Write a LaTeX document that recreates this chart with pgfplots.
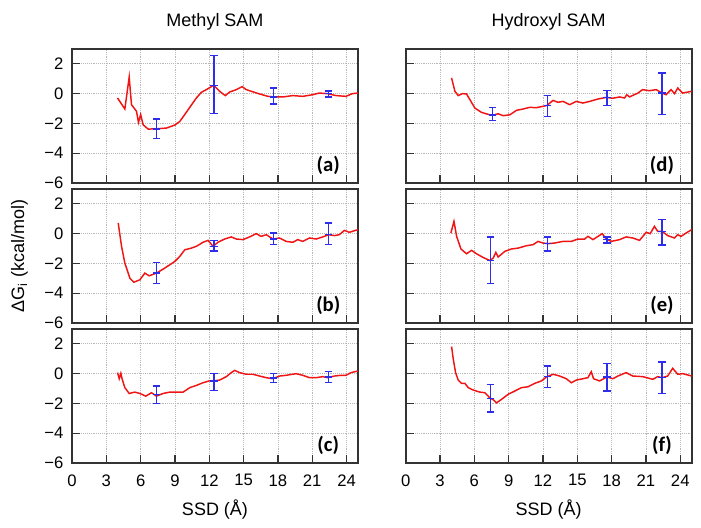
\documentclass[border=0pt]{standalone}
\usepackage{fontspec}
\setmainfont{Liberation Sans}
\newfontfamily\carlito{Carlito}
\usepackage{pgfplots}
\pgfplotsset{compat=1.18}
\usepgfplotslibrary{groupplots}
\definecolor{ebblue}{RGB}{45,45,235}
\definecolor{cred}{RGB}{240,20,20}

\pgfplotsset{
  panel/.style={
    scale only axis, width=214.5pt, height=100.5pt,
    xmin=0, xmax=25, ymin=-6, ymax=3,
    xtick={0,3,6,9,12,15,18,21,24},
    xticklabels={0,3,6,9,12,15,18,21,24},
    ytick={-6,-4,-2,0,2},
    yticklabels={−6,−4,−2,0,2},
    tick align=inside, xtick pos=bottom, ytick pos=left,
    major tick length=6pt,
    tick style={black!80, line width=0.9pt},
    axis line style={black!80, line width=1.4pt},
    grid=major,
    major grid style={black!28, densely dotted, line width=0.6pt},
    ticklabel style={font=\fontsize{12.5}{14}\selectfont},
    xticklabel style={yshift=-5pt},
    yticklabel style={xshift=-3pt},
  },
  curve/.style={cred, line width=1.1pt, no marks},
  ebar/.style={ebblue, only marks, mark=-, mark size=2.8pt, line width=1.1pt,
    error bars/.cd, y dir=both, y explicit,
    error bar style={ebblue, line width=1.1pt},
    error mark options={ebblue, mark size=2.8pt, line width=1.1pt, rotate=90}},
}

\newcommand{\plab}[1]{\node at (axis cs:22.4,-4.85) {\carlito\bfseries\fontsize{15.5}{18}\selectfont #1};}

\begin{document}
\begin{tikzpicture}
\begin{groupplot}[group style={group size=2 by 3, horizontal sep=35.775pt, vertical sep=4.5pt,
    xticklabels at=edge bottom, yticklabels at=edge left}, panel]

% (a)
\nextgroupplot
\addplot[curve] coordinates {
(3.98,-0.29)(4.62,-1.03)(5.0,1.12)(5.2,-0.74)(5.64,-1.19)(5.81,-1.93)(6.0,-1.4)(6.22,-2.09)(6.66,-2.38)(7.38,-2.36)(8.26,-2.31)(8.98,-2.11)(9.42,-1.87)(10.15,-1.08)(10.87,-0.29)(11.31,0.09)(11.74,0.27)(12.38,0.56)(12.9,0.16)(13.4,-0.13)(13.78,0.11)(14.36,0.27)(14.88,0.47)(15.23,0.27)(15.67,0.16)(16.4,-0.02)(17.12,-0.18)(17.64,-0.22)(18.43,-0.22)(19.3,-0.13)(20.17,-0.18)(21.05,-0.07)(21.6,0.04)(22.35,0.0)(23.08,-0.13)(23.95,-0.18)(24.5,0)(25,0.04)
};
\addplot[ebar] coordinates {
(7.4,-2.36) += (0,0.67) -= (0,0.65)
(12.4,0.56) += (0,2.0) -= (0,1.91)
(17.6,-0.22) += (0,0.6) -= (0,0.48)
(22.4,0.0) += (0,0.18) -= (0,0.22)
};
\plab{(a)}

% (d)
\nextgroupplot
\addplot[curve] coordinates {
(4.01,1.06)(4.3,0.16)(4.59,-0.13)(4.97,0)(5.32,-0.02)(5.61,-0.4)(6.05,-0.97)(6.63,-1.26)(7.35,-1.42)(7.65,-1.44)(8.08,-1.35)(8.52,-1.48)(9.1,-1.42)(9.68,-1.12)(10.26,-1.03)(10.84,-0.92)(11.42,-0.94)(12.0,-0.85)(12.35,-0.79)(12.88,-0.45)(13.31,-0.58)(13.75,-0.52)(14.33,-0.74)(14.91,-0.52)(15.49,-0.63)(16.08,-0.52)(16.8,-0.36)(17.53,-0.25)(18.1,-0.31)(18.7,-0.22)(19.13,-0.29)(19.33,-0.07)(19.56,-0.22)(20.3,0.04)(20.7,0.27)(21.3,0.2)(21.9,0.27)(22.4,0.04)(22.76,-0.07)(23.2,0.27)(23.5,0)(23.78,0.38)(24.2,0.04)(25,0.16)
};
\addplot[ebar] coordinates {
(7.6,-1.44) += (0,0.52) -= (0,0.38)
(12.4,-0.79) += (0,0.68) -= (0,0.76)
(17.6,-0.25) += (0,0.47) -= (0,0.56)
(22.4,0.04) += (0,1.35) -= (0,1.43)
};
\plab{(d)}

% (b)
\nextgroupplot
\addplot[curve] coordinates {
(4.04,0.72)(4.33,-0.85)(4.62,-1.98)(5.06,-2.99)(5.41,-3.26)(5.93,-3.1)(6.37,-2.65)(6.74,-2.83)(7.38,-2.65)(7.97,-2.38)(8.55,-2.09)(8.98,-1.87)(9.42,-1.53)(9.86,-1.08)(10.44,-0.97)(10.87,-0.85)(11.45,-0.58)(11.89,-0.45)(12.33,-0.85)(12.76,-0.58)(13.34,-0.36)(13.92,-0.22)(14.36,-0.36)(14.94,-0.4)(15.52,-0.22)(16.1,0)(16.54,-0.18)(16.98,-0.07)(17.56,-0.36)(18.14,-0.29)(18.72,-0.52)(19.3,-0.58)(19.74,-0.4)(20.17,-0.52)(20.76,-0.29)(21.34,-0.36)(21.92,-0.22)(22.44,-0.07)(22.94,-0.13)(23.37,-0.07)(23.81,0.22)(24.24,0.09)(24.53,0.16)(25,0.27)
};
\addplot[ebar] coordinates {
(7.4,-2.65) += (0,0.72) -= (0,0.7)
(12.4,-0.85) += (0,0.38) -= (0,0.3)
(17.6,-0.36) += (0,0.4) -= (0,0.38)
(22.4,-0.07) += (0,0.79) -= (0,0.67)
};
\plab{(b)}

% (e)
\nextgroupplot
\addplot[curve] coordinates {
(3.95,0.04)(4.22,0.83)(4.45,-0.18)(4.83,-1.03)(5.32,-1.35)(5.76,-1.12)(6.19,-1.35)(6.77,-1.6)(7.35,-1.8)(7.65,-1.64)(7.88,-1.26)(8.08,-1.57)(8.66,-1.19)(9.24,-1.03)(9.83,-0.97)(10.55,-0.81)(11.13,-0.74)(11.57,-0.52)(12.0,-0.63)(12.44,-0.67)(13.02,-0.63)(13.75,-0.52)(14.48,-0.52)(15.06,-0.36)(15.64,-0.36)(15.93,-0.18)(16.37,-0.4)(17.18,0)(17.53,-0.36)(17.97,-0.52)(18.7,-0.4)(19.27,-0.22)(19.85,-0.29)(20.44,-0.45)(21.02,0.09)(21.37,0)(21.74,0.49)(22.03,0.16)(22.4,0.16)(22.9,-0.13)(23.49,-0.29)(23.78,-0.07)(24.07,-0.18)(24.5,0.04)(25,0.27)
};
\addplot[ebar] coordinates {
(7.4,-1.8) += (0,1.58) -= (0,1.53)
(12.4,-0.67) += (0,0.45) -= (0,0.5)
(17.6,-0.4) += (0,0.18) -= (0,0.23)
(22.4,0.16) += (0,0.78) -= (0,0.92)
};
\plab{(e)}

% (c)
\nextgroupplot
\addplot[curve] coordinates {
(3.98,0.07)(4.13,-0.34)(4.27,0.02)(4.39,-0.38)(4.62,-0.94)(5.0,-1.33)(5.49,-1.24)(5.93,-1.33)(6.45,-1.51)(6.95,-1.28)(7.38,-1.51)(7.97,-1.33)(8.55,-1.24)(9.13,-1.24)(9.71,-1.24)(10.29,-0.94)(10.87,-0.79)(11.45,-0.61)(11.98,-0.49)(12.33,-0.49)(12.9,-0.43)(13.49,-0.2)(13.92,0.07)(14.22,0.22)(14.65,0.07)(15.23,-0.04)(15.81,-0.04)(16.4,-0.16)(16.98,-0.27)(17.56,-0.34)(18.14,-0.16)(18.72,-0.11)(19.59,0)(20.17,-0.11)(20.76,-0.27)(21.34,-0.27)(21.92,-0.2)(22.35,-0.27)(22.94,-0.16)(23.52,-0.11)(23.95,-0.11)(24.39,0.07)(25,0.18)
};
\addplot[ebar] coordinates {
(7.4,-1.39) += (0,0.56) -= (0,0.61)
(12.4,-0.49) += (0,0.49) -= (0,0.63)
(17.6,-0.29) += (0,0.29) -= (0,0.32)
(22.4,-0.22) += (0,0.35) -= (0,0.39)
};
\plab{(c)}

% (f)
\nextgroupplot
\addplot[curve] coordinates {
(4.01,1.82)(4.16,0.97)(4.36,0.07)(4.59,-0.43)(4.88,-0.65)(5.17,-0.65)(5.47,-0.94)(5.9,-1.1)(6.48,-1.24)(6.92,-1.28)(7.35,-1.62)(7.7,-1.78)(7.94,-1.96)(8.37,-1.73)(8.95,-1.39)(9.53,-1.17)(10.12,-0.94)(10.7,-0.88)(11.28,-0.65)(11.86,-0.49)(12.35,-0.2)(12.88,-0.04)(13.46,-0.16)(14.04,-0.34)(14.48,-0.61)(14.91,-0.43)(15.49,-0.34)(15.93,-0.27)(16.22,0.13)(16.42,-0.34)(16.95,-0.49)(17.59,-0.22)(18.11,-0.34)(18.55,-0.16)(19.27,0.07)(19.85,-0.16)(20.73,-0.2)(21.6,-0.38)(22.03,-0.2)(22.41,-0.27)(22.9,-0.16)(23.34,0.36)(23.78,-0.04)(24.22,0)(25,-0.16)
};
\addplot[ebar] coordinates {
(7.4,-1.66) += (0,0.94) -= (0,0.9)
(12.4,-0.2) += (0,0.72) -= (0,0.74)
(17.6,-0.22) += (0,0.92) -= (0,0.95)
(22.4,-0.27) += (0,1.06) -= (0,1.08)
};
\plab{(f)}
\end{groupplot}

\node[font=\fontsize{13.5}{16}\selectfont] at ([yshift=20.25pt]group c1r1.north) {Methyl SAM};
\node[font=\fontsize{13.5}{16}\selectfont] at ([yshift=20.25pt]group c2r1.north) {Hydroxyl SAM};
\node[font=\fontsize{13.5}{16}\selectfont] at ([yshift=-35.25pt]group c1r3.south) {SSD (Å)};
\node[font=\fontsize{13.5}{16}\selectfont] at ([yshift=-35.25pt]group c2r3.south) {SSD (Å)};
\node[font=\fontsize{13.5}{16}\selectfont, rotate=90] at ([xshift=-39.4pt]group c1r2.west) {ΔG\textsubscript{i} (kcal/mol)};

\pgfresetboundingbox
\path ([xshift=-54pt,yshift=-48.75pt]group c1r3.south west) rectangle ([xshift=6.975pt,yshift=36.75pt]group c2r1.north east);
\end{tikzpicture}
\end{document}
